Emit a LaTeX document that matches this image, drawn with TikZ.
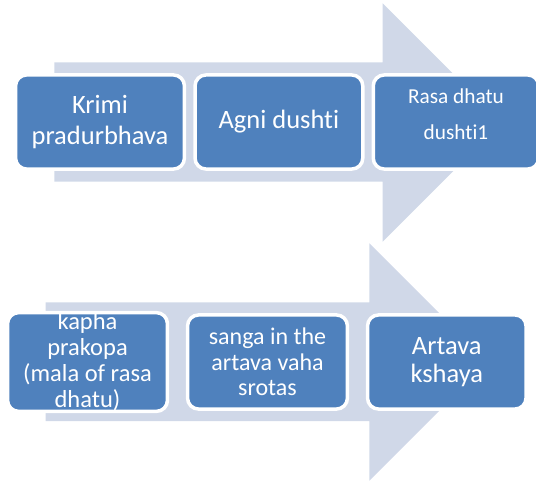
\documentclass[tikz,border=0pt]{standalone}
\usepackage{fontspec}
\setmainfont[Ligatures=NoCommon]{Carlito}
\definecolor{boxblue}{HTML}{4F81BD}
\definecolor{arrowgray}{HTML}{D0D8E8}
\begin{document}
\begin{tikzpicture}[x=1pt,y=-1pt,
  stepbox/.style={draw=white, line width=3.5pt, fill=boxblue, rounded corners=11pt,
    minimum height=94.1pt, inner sep=0pt, outer sep=0pt, text=white, align=center},
  bigarrow/.style={fill=arrowgray}]
\useasboundingbox (0,0) rectangle (536,482);
% arrows
\fill[bigarrow] (54.3,62.3) -- (382.7,62.3) -- (382.7,3.3) -- (501.7,122.5) -- (382.7,241.7) -- (382.7,181.7) -- (54.3,181.7) -- cycle;
\fill[bigarrow] (45.7,302.3) -- (369.3,302.3) -- (369.3,243.3) -- (488,362) -- (369.3,480.7) -- (369.3,421) -- (45.7,421) -- cycle;
% top row
\node[stepbox, minimum width=168.9pt, font=\fontsize{26.5}{30.7}\selectfont] (b1) at (100,122) {Krimi\\pradurbhava};
\node[stepbox, minimum width=167.8pt, font=\fontsize{26.5}{30.7}\selectfont] (b2) at (278.9,122) {Agni dushti};
\node[stepbox, minimum width=165.5pt] (b3) at (456,122) {};
\node[text=white, align=center, inner sep=0pt, font=\fontsize{21.3}{35.7}\selectfont] (t3) at (456,114) {Rasa dhatu\\dushti1};
% bottom row
\node[stepbox, minimum width=159.9pt, font=\fontsize{24.5}{26.1}\selectfont] (c1) at (87.5,362) {kapha\\prakopa\\(mala of rasa\\dhatu)};
\node[stepbox, minimum width=159.9pt, font=\fontsize{24}{25.5}\selectfont] (c2) at (267.5,362) {sanga in the\\artava vaha\\srotas};
\node[stepbox, minimum width=158.5pt, font=\fontsize{26.5}{28.3}\selectfont] (c3) at (446.8,362) {Artava\\kshaya};
\end{tikzpicture}
\end{document}
